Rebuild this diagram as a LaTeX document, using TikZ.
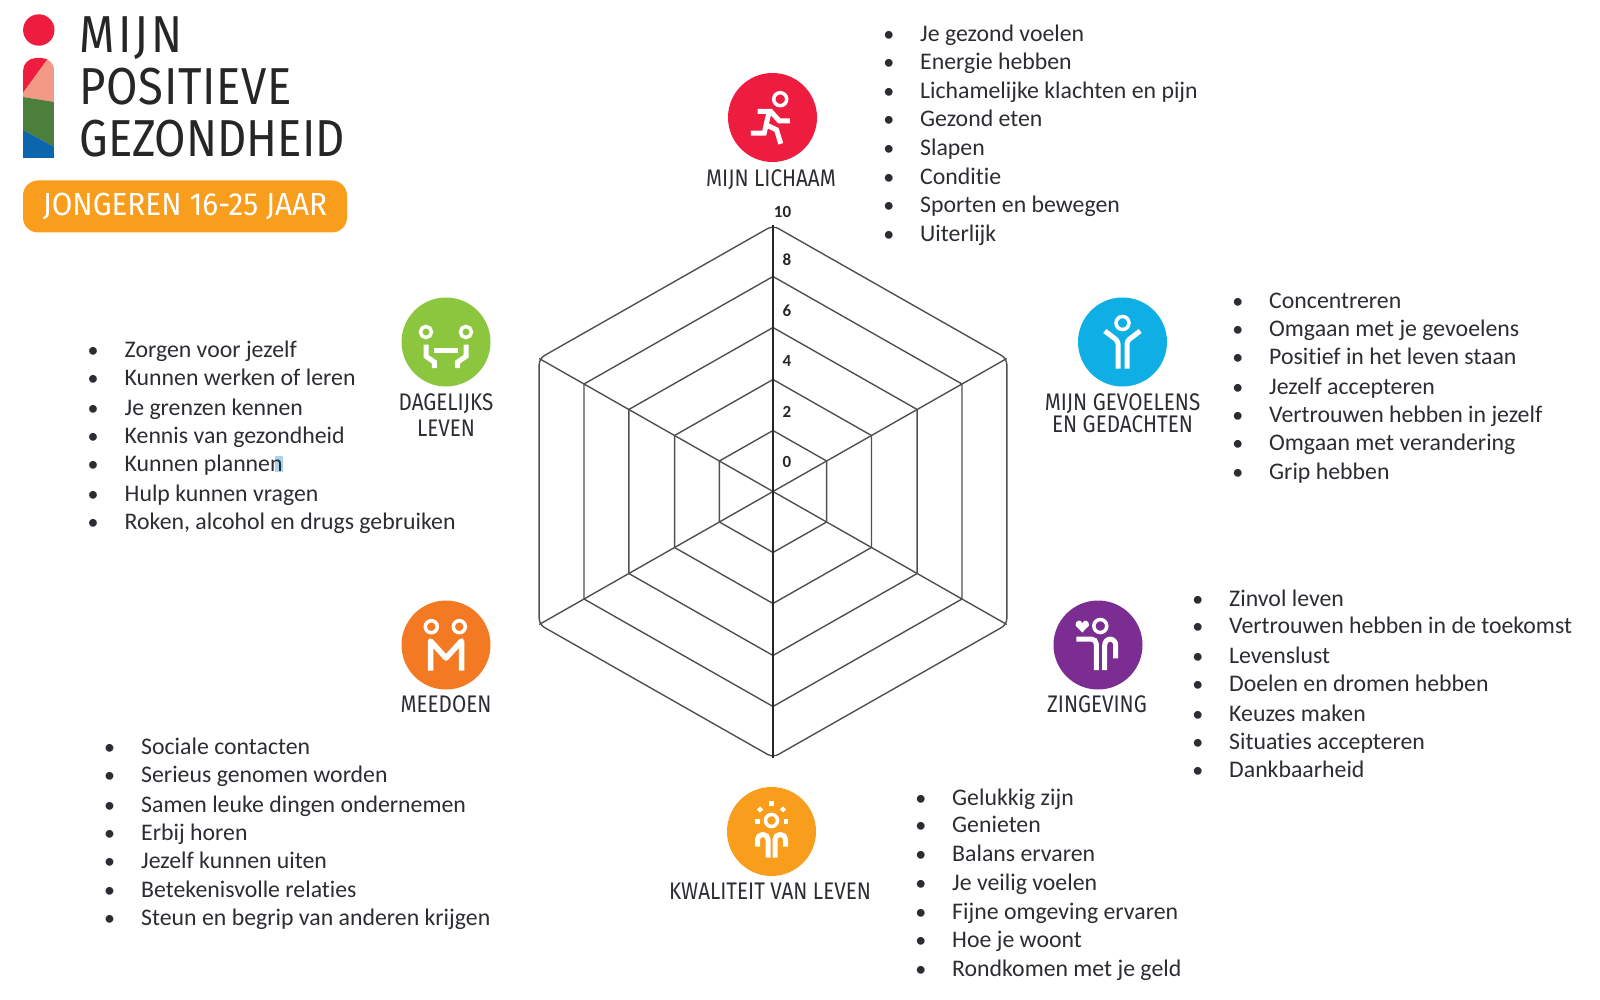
\documentclass[tikz,border=0pt]{standalone}
\usepackage{fontspec}
\setmainfont{Carlito}[Ligatures=CommonOff]
\newfontfamily\din[FakeStretch=0.875]{Fira Sans}
\newfontfamily\dinwide[FakeStretch=0.93]{Fira Sans}
\newfontfamily\dinreg[FakeStretch=0.86]{Fira Sans}
\definecolor{lichaamred}{HTML}{EE1C3E}
\definecolor{logopink}{HTML}{F29A86}
\definecolor{logogreen}{HTML}{4C7F3C}
\definecolor{logoblue}{HTML}{0B66AE}
\definecolor{gevoelblue}{HTML}{0FAEE5}
\definecolor{dagelijksgreen}{HTML}{8CC63F}
\definecolor{zingpurple}{HTML}{7B2D91}
\definecolor{meedoenorange}{HTML}{F37A22}
\definecolor{kwaliteitorange}{HTML}{F99D1C}
\definecolor{inktext}{HTML}{2C2C32}
\definecolor{gridline}{HTML}{505050}
\definecolor{markblue}{HTML}{A9D4EE}
\tikzset{
  item/.style={anchor=base west,inner sep=0pt,text=inktext,font=\fontsize{23.8}{26}\selectfont,
    execute at begin node={\llap{{\fontsize{22}{22}\selectfont\textbullet}\hspace{26pt}}}},
  disc/.style={circle,minimum size=89pt,inner sep=0pt},
  caption/.style={inner sep=0pt,text=inktext,font=\dinreg\fontsize{24}{24}\selectfont},
  titleline/.style={anchor=base west,inner sep=0pt,text=black!85,font=\din\fontsize{52}{52}\selectfont},
  scale number/.style={inner sep=0pt,text=black!85,font=\fontsize{17}{17}\selectfont\bfseries},
  icon/.style={draw=white,line width=5pt},
  head/.style={draw=white,line width=3.5pt},
  grid/.style={draw=gridline,line width=1.4pt,line join=round},
}
\begin{document}
\begin{tikzpicture}[x=1pt,y=-1pt]
\useasboundingbox (0,0) rectangle (1600,1000);

% logo
\fill[lichaamred] (38.8,30) circle[radius=15.7];
\begin{scope}
\clip[rounded corners=13pt] (23,158) -- (23,58) -- (54.5,58) -- (54.5,158+20) -- (23,158+20) -- cycle;
\fill[lichaamred] (23,93) -- (23,50) -- (50,50) -- (47,60) -- cycle;
\fill[logopink] (23,93) -- (47,60) -- (54.5,50) -- (54.5,102) -- (23,97) -- cycle;
\fill[logogreen] (23,97) -- (54.5,102) -- (54.5,147) -- (23,130) -- cycle;
\fill[logoblue] (23,130) -- (54.5,147) -- (54.5,158) -- (23,158) -- cycle;
\end{scope}
\node[titleline] (mijn) at (79.5,53) {\addfontfeatures{LetterSpace=6}MIJN};
\node[titleline] (positieve) at (79.5,105) {\addfontfeatures{LetterSpace=1.3}POSITIEVE};
\node[titleline] (gezondheid) at (79.5,157) {GEZONDHEID};
\node[fill=kwaliteitorange,rounded corners=15pt,minimum width=324pt,minimum height=52pt,
  text=white,inner sep=0pt,font=\dinwide\fontsize{32}{32}\selectfont] (jongeren) at (185,206.5) {JONGEREN 16-25 JAAR};

% hexagons
\begin{scope}[shift={(773,491.5)},xscale=1.015]
\foreach \r in {61,112,164,215} {
  \draw[grid] (90:\r) -- (30:\r) -- (-30:\r) -- (-90:\r) -- (-150:\r) -- (150:\r) -- cycle;
}
\draw[grid,rounded corners=6pt] (90:266) -- (30:266) -- (-30:266) -- (-90:266) -- (-150:266) -- (150:266) -- cycle;
\foreach \a in {30,150,210,330} {
  \draw[grid] (0,0) -- (\a:266);
}
\draw[grid,draw=black!85] (90:266) -- (-90:266);
\end{scope}
\node[scale number] (n10) at (782.5,212) {10};
\node[scale number] (n8) at (787,259.5) {8};
\node[scale number] (n6) at (787,311) {6};
\node[scale number] (n4) at (787,360.5) {4};
\node[scale number] (n2) at (787,412) {2};
\node[scale number] (n0) at (787,462) {0};

% mijn lichaam
\node[disc,fill=lichaamred] (lichaam) at (772.5,117.5) {};
\node[caption] (lichaamtext) at (771,179.5) {MIJN LICHAAM};
\begin{scope}[shift={(lichaam.center)}]
\draw[head] (7.7,-18.3) circle[radius=6.5];
\draw[icon] (-15,-6) -- (-1.7,-6) -- (6.7,3.3) -- (17.3,3.3);
\draw[icon] (-21.7,15.7) -- (-8.3,15.7) -- (-3.3,-6);
\draw[icon] (-6.5,7.3) -- (4,12.3) -- (8.3,26.3);
\end{scope}
\node[item] (li1) at (920,41.5) {Je gezond voelen};
\node[item] (li2) at (920,70) {Energie hebben};
\node[item] (li3) at (920,98.5) {Lichamelijke klachten en pijn};
\node[item] (li4) at (920,126.5) {Gezond eten};
\node[item] (li5) at (920,156) {Slapen};
\node[item] (li6) at (920,184.5) {Conditie};
\node[item] (li7) at (920,212.5) {Sporten en bewegen};
\node[item] (li8) at (920,241.5) {Uiterlijk};

% gevoelens
\node[disc,fill=gevoelblue] (gevoel) at (1122.5,342) {};
\node[caption] (gevoeltext1) at (1122.5,403.5) {MIJN GEVOELENS};
\node[caption] (gevoeltext2) at (1122.5,424.5) {EN GEDACHTEN};
\begin{scope}[shift={(gevoel.center)}]
\draw[head] (0,-19) circle[radius=6.5];
\draw[icon,rounded corners=3pt] (-17.7,-11) -- (-4.5,-1) -- (-4.5,26.7);
\draw[icon,rounded corners=3pt] (17.7,-11) -- (4.5,-1) -- (4.5,26.7);
\end{scope}
\node[item] (ge1) at (1269,308.5) {Concentreren};
\node[item] (ge2) at (1269,336.5) {Omgaan met je gevoelens};
\node[item] (ge3) at (1269,364.5) {Positief in het leven staan};
\node[item] (ge4) at (1269,394.5) {Jezelf accepteren};
\node[item] (ge5) at (1269,422.5) {Vertrouwen hebben in jezelf};
\node[item] (ge6) at (1269,450) {Omgaan met verandering};
\node[item] (ge7) at (1269,479.5) {Grip hebben};

% dagelijks leven
\node[disc,fill=dagelijksgreen] (dagelijks) at (446,342) {};
\node[caption] (dagelijkstext1) at (446,403.5) {DAGELIJKS};
\node[caption] (dagelijkstext2) at (446,428.5) {LEVEN};
\begin{scope}[shift={(dagelijks.center)}]
\draw[head] (-20,-10) circle[radius=5.5];
\draw[head] (20,-10) circle[radius=5.5];
\draw[icon] (-11.7,8.3) -- (12,8.3);
\draw[icon] (-20,2.7) -- (-20,14.3) -- (-11.7,20) -- (-11.7,26);
\draw[icon] (20,2.7) -- (20,14.3) -- (11.7,20) -- (11.7,26);
\end{scope}
\fill[markblue] (275,456) rectangle (283,472);
\node[item] (da1) at (124.5,357) {Zorgen voor jezelf};
\node[item] (da2) at (124.5,385.5) {Kunnen werken of leren};
\node[item] (da3) at (124.5,415) {Je grenzen kennen};
\node[item] (da4) at (124.5,443.5) {Kennis van gezondheid};
\node[item] (da5) at (124.5,471.5) {Kunnen plannen};
\node[item] (da6) at (124.5,501) {Hulp kunnen vragen};
\node[item] (da7) at (124.5,529.5) {Roken, alcohol en drugs gebruiken};

% zingeving
\node[disc,fill=zingpurple] (zingeving) at (1098,645) {};
\node[caption] (zingevingtext) at (1097,704) {ZINGEVING};
\begin{scope}[shift={(zingeving.center)}]
\draw[head] (2.3,-19) circle[radius=6.5];
\fill[white] (-15.7,-12.5) -- (-22.5,-19.5) to[out=100,in=180] (-19,-24.5) to[out=0,in=110] (-15.7,-21.5) to[out=70,in=180] (-12.4,-24.5) to[out=0,in=80] (-9,-19.5) -- cycle;
\draw[icon,rounded corners=5pt] (-21.7,-6) -- (-1.7,-6) -- (-1.7,25);
\draw[icon,rounded corners=6pt] (6.7,25) -- (6.7,-6) -- (17.7,-6) -- (17.7,13.3);
\end{scope}
\node[item] (zi1) at (1229,606) {Zinvol leven};
\node[item] (zi2) at (1229,633.5) {Vertrouwen hebben in de toekomst};
\node[item] (zi3) at (1229,663) {Levenslust};
\node[item] (zi4) at (1229,691.5) {Doelen en dromen hebben};
\node[item] (zi5) at (1229,721) {Keuzes maken};
\node[item] (zi6) at (1229,749) {Situaties accepteren};
\node[item] (zi7) at (1229,777.5) {Dankbaarheid};

% meedoen
\node[disc,fill=meedoenorange] (meedoen) at (446,645) {};
\node[caption] (meedoentext) at (446,704) {MEEDOEN};
\begin{scope}[shift={(meedoen.center)}]
\draw[head] (-14.7,-18.3) circle[radius=6];
\draw[head] (13.3,-18.3) circle[radius=6];
\draw[icon,line width=5.5pt,line join=round] (-15.5,25.7) -- (-15.5,-4) -- (0,13) -- (15.5,-4) -- (15.5,25.7);
\end{scope}
\node[item] (me1) at (141,754) {Sociale contacten};
\node[item] (me2) at (141,782.5) {Serieus genomen worden};
\node[item] (me3) at (141,812) {Samen leuke dingen ondernemen};
\node[item] (me4) at (141,840) {Erbij horen};
\node[item] (me5) at (141,868) {Jezelf kunnen uiten};
\node[item] (me6) at (141,897) {Betekenisvolle relaties};
\node[item] (me7) at (141,925.5) {Steun en begrip van anderen krijgen};

% kwaliteit van leven
\node[disc,fill=kwaliteitorange] (kwaliteit) at (771.5,831.5) {};
\node[caption] (kwaliteittext) at (770,891) {KWALITEIT VAN LEVEN};
\begin{scope}[shift={(kwaliteit.center)}]
\draw[head] (0,-11) circle[radius=6];
\draw[icon,line width=4.5pt] (0,-30.5) -- (0,-26);
\draw[icon,line width=4.5pt] (-13,-23.5) -- (-10,-20.5);
\draw[icon,line width=4.5pt] (13,-23.5) -- (10,-20.5);
\draw[icon,line width=4.5pt] (-16.5,-10) -- (-12,-10);
\draw[icon,line width=4.5pt] (16.5,-10) -- (12,-10);
\draw[icon,rounded corners=5pt] (-14,15) -- (-14,3) -- (-3.5,3) -- (-3.5,26);
\draw[icon,rounded corners=5pt] (14,15) -- (14,3) -- (3.5,3) -- (3.5,26);
\end{scope}
\node[item] (kw1) at (952,805) {Gelukkig zijn};
\node[item] (kw2) at (952,832.5) {Genieten};
\node[item] (kw3) at (952,861) {Balans ervaren};
\node[item] (kw4) at (952,890.5) {Je veilig voelen};
\node[item] (kw5) at (952,919) {Fijne omgeving ervaren};
\node[item] (kw6) at (952,947) {Hoe je woont};
\node[item] (kw7) at (952,976.5) {Rondkomen met je geld};

\end{tikzpicture}
\end{document}
